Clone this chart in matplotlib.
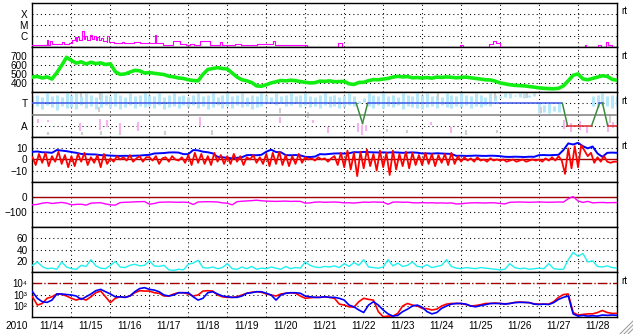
import numpy as np
import matplotlib
matplotlib.use("Agg")
import matplotlib.pyplot as plt
from matplotlib.lines import Line2D
from matplotlib.ticker import FixedLocator, NullLocator

plt.rcParams['font.family'] = ['Liberation Sans', 'DejaVu Sans']
plt.rcParams['lines.scale_dashes'] = False

# --- data: time in days since 2010-11-14 00:00 ---
year_label = '2010'
day_labels = ['11/14', '11/15', '11/16', '11/17', '11/18', '11/19', '11/20', '11/21',
              '11/22', '11/23', '11/24', '11/25', '11/26', '11/27', '11/28']

# x-ray flux (W/m2), irregular times; values below 1e-7 are off scale
xray_t = [0.00, 0.10, 0.18, 0.37, 0.40, 0.45, 0.50, 0.60, 0.75, 0.80, 0.95, 1.02, 1.08, 1.12,
          1.15, 1.20, 1.28, 1.31, 1.36, 1.40, 1.47, 1.52, 1.58, 1.62, 1.66, 1.70, 1.75, 1.80,
          1.90, 1.92, 1.96, 2.10, 2.30, 2.35, 2.60, 2.75, 3.00, 3.14, 3.17, 3.30, 3.35, 3.60,
          3.78, 3.95, 4.05, 4.15, 4.30, 4.55, 4.80, 4.86, 5.20, 5.35, 5.75, 6.17, 6.22, 6.95,
          7.04, 7.20, 7.45, 7.48, 7.85, 7.94, 9.11, 9.14, 9.37, 9.40, 10.70, 10.74, 10.96, 11.04,
          11.72, 11.82, 11.90, 11.99, 13.83, 13.86, 14.17, 14.20, 14.37, 14.40, 14.50, 14.60,
          14.72, 14.76, 14.82, 14.86, 15.00]
xray_flux = [1.5e-7, 1.8e-7, 1.5e-7, 4.3e-7, 1.8e-7, 3.5e-7, 2.0e-7, 2.2e-7, 3.0e-7, 2.2e-7,
             2.3e-7, 5.0e-7, 8.6e-7, 4.0e-7, 8.6e-7, 4.5e-7, 2.85e-6, 6.0e-7, 1.0e-6, 5.0e-7,
             1.3e-6, 6.0e-7, 1.1e-6, 5.0e-7, 8.6e-7, 4.5e-7, 6.6e-7, 3.5e-7, 3.0e-7, 1.1e-6,
             3.0e-7, 2.5e-7, 3.2e-7, 2.5e-7, 2.8e-7, 2.4e-7, 2.5e-7, 1.2e-6, 2.5e-7, 2.6e-7,
             1.5e-7, 3.5e-7, 2.0e-7, 1.8e-7, 2.2e-7, 1.7e-7, 3.5e-7, 1.5e-7, 3.0e-7, 1.7e-7,
             2.0e-7, 1.8e-7, 2.0e-7, 3.5e-7, 1.5e-7, 1.5e-7, 1.2e-7, 5e-8, 1.1e-7, 5e-8,
             2.5e-7, 5e-8, 1.1e-7, 5e-8, 1.1e-7, 5e-8, 1.1e-7, 5e-8, 1.5e-7, 5e-8,
             2.0e-7, 3.5e-7, 2.5e-7, 5e-8, 1.1e-7, 5e-8, 1.5e-7, 5e-8, 1.2e-7, 5e-8,
             1.5e-7, 5e-8, 3.0e-7, 1.5e-7, 1.8e-7, 5e-8, 5e-8]

# 3-hourly series
t3h = np.arange(121) / 8.0
speed = [470, 478, 460, 472, 448, 520, 600, 690,
         655, 625, 640, 615, 635, 620, 628, 610,
         618, 530, 500, 505, 525, 545, 540, 515,
         520, 512, 505, 498, 480, 472, 460, 455,
         440, 432, 428, 500, 555, 565, 575, 565,
         560, 515, 470, 440, 428, 410, 372, 368,
         385, 405, 418, 432, 428, 435, 430, 420,
         412, 405, 408, 425, 422, 428, 418, 420,
         422, 395, 388, 410, 412, 430, 442, 440,
         448, 455, 470, 478, 472, 476, 462, 465,
         460, 465, 458, 470, 466, 472, 468, 462,
         466, 470, 462, 455, 448, 440, 438, 425,
         405, 395, 385, 378, 375, 372, 365, 358,
         350, 345, 342, 340, 345, 372, 430, 490,
         505, 450, 440, 455, 470, 485, 478, 445,
         435]

# sector panel: T = 1, A = -1
pol_t = [0, 8.31, 8.47, 8.60, 13.60, 13.73, 14.35, 14.55, 14.63, 14.76, 15]
pol_v = [1, 1, -0.8, 1, 1, -1, -1, 1, 1, -1, -1]
nan = np.nan
phi_hi = [1.7, 1.8, 1.6, 1.9, 1.7, 1.8, 1.6, 1.9,
          1.8, 1.9, 1.7, 1.9, 1.8, 1.6, 1.9, 1.8,
          1.7, 1.9, 1.8, 1.6, 1.9, 1.7, 1.8, 1.9,
          1.8, 1.7, 1.9, 1.6, 1.8, 1.9, 1.7, 1.8,
          1.6, 1.8, 1.9, 1.7, 1.8, 1.9, 1.6, 1.8,
          1.9, 1.7, 1.8, 1.9, 1.6, 1.8, 1.7, 1.9,
          1.8, 1.6, 1.9, 1.7, 1.8, 1.9, 1.7, 1.8,
          1.9, 1.7, 1.6, 1.8, 1.9, 1.7, 1.8, 1.6,
          1.8, 1.9, 1.7, 1.2, 1.5, 1.9, 1.8, 1.7,
          1.9, 1.7, 1.8, 1.6, 1.9, 1.8, 1.7, 1.9,
          1.8, 1.9, 1.7, 1.8, 1.6, 1.9, 1.8, 1.7,
          1.9, 1.8, 1.7, 1.9, 1.8, 1.6, 1.9, 1.8,
          1.7, 1.9, 1.9, 1.8, 1.9, 1.9, 1.8, 1.9,
          1.0, 0.9, 1.0, 0.8, 1.0, nan, nan, nan,
          nan, nan, nan, 1.7, 1.8, 1.9, 1.7, 1.8,
          1.7]
phi_lo = [0.6, 0.8, 0.5, 0.9, 0.7, 0.4, 0.8, 0.6,
          0.7, 0.5, 0.9, 0.6, 0.8, 0.5, 0.7, 0.9,
          0.6, 0.8, 0.5, 0.7, 0.9, 0.6, 0.8, 0.7,
          0.8, 0.6, 0.9, 0.5, 0.7, 0.8, 0.6, 0.9,
          0.7, 0.9, 0.6, 0.8, 0.5, 0.7, 0.9, 0.6,
          0.8, 0.6, 0.9, 0.7, 0.8, 0.5, 0.7, 0.8,
          1.0, 1.1, 0.9, 1.0, 0.8, 0.9, 1.0, 0.7,
          0.9, 0.7, 0.8, 0.6, 0.9, 0.7, 0.8, 0.6,
          0.7, 0.9, 0.8, 1.0, 1.1, 0.8, 0.6, 0.9,
          0.6, 0.8, 0.7, 0.9, 0.5, 0.8, 0.7, 0.6,
          0.5, 0.7, 0.8, 0.6, 0.9, 0.7, 0.6, 0.8,
          0.7, 0.9, 0.6, 0.8, 0.7, 0.9, 0.8, 1.2,
          1.5, 1.6, 1.5, 1.7, 1.6, 1.5, 1.6, 1.7,
          0.1, 0.2, 0.1, 0.3, 0.2, nan, nan, nan,
          nan, nan, nan, 0.8, 0.7, 0.9, 0.8, 0.6,
          0.8]
pink_t = [0.14, 0.40, 1.22, 1.73, 1.91, 2.24, 2.71, 4.29, 6.35, 7.19, 7.58, 8.35, 8.45,
          8.55, 10.24, 10.73, 13.65, 13.83, 14.04, 14.24, 14.78, 14.91]
pink_lo = [-0.8, -0.7, -1.5, -1.4, -1.1, -1.7, -1.5, -1.0, -0.8, -0.8, -1.7, -1.6, -1.8,
           -1.5, -0.9, -1.7, -1.3, -1.6, -1.4, -1.7, -1.6, -1.2]
pink_hi = [-0.4, -0.5, -0.8, -0.4, -0.5, -0.8, -0.7, -0.2, -0.2, -0.5, -1.1, -0.8, -0.9,
           -0.9, -0.7, -1.1, -0.5, -0.8, -0.6, -1.0, -0.8, -0.7]
grey_t = [0.40, 1.24, 1.27, 1.71, 1.73, 1.76, 2.24, 3.40, 4.60, 6.35, 7.06, 9.09, 9.60,
          10.40, 11.12, 11.86, 11.91, 12.68, 13.06, 14.81]
grey_lo = [-1.85, 1.55, -1.85, 0.2, 1.3, -1.85, -1.8, -1.85, -1.85, 0.1, -0.3, -1.6, -1.7,
           1.3, -1.85, 1.4, -1.7, 1.45, 0.1, -0.8]
grey_hi = [-1.6, 1.9, -1.6, 0.7, 1.9, -1.5, -1.6, -1.5, -1.4, 0.55, 0.25, -1.3, -1.4,
           1.9, -1.4, 1.9, -1.4, 1.9, 0.7, -0.05]

bt = [6.9, 7.2, 6.5, 6.4, 6.0, 8.5, 8.0, 7.5,
      6.7, 6.0, 5.0, 4.8, 4.6, 4.5, 3.9, 3.8,
      3.5, 3.3, 3.2, 3.3, 3.2, 3.4, 3.5, 3.9,
      4.2, 5.4, 5.6, 5.8, 6.3, 6.4, 6.2, 4.8,
      4.8, 8.5, 8.2, 7.0, 6.5, 5.5, 2.4, 2.0,
      1.5, 1.0, 1.5, 2.0, 3.9, 4.0, 3.8, 4.2,
      7.0, 8.8, 6.7, 6.5, 3.9, 3.8, 4.0, 3.7,
      2.4, 2.2, 2.6, 4.8, 4.6, 5.0, 5.4, 5.5,
      5.3, 5.6, 6.6, 6.5, 6.8, 6.6, 6.4, 6.3,
      6.4, 6.2, 6.5, 6.3, 6.0, 6.2, 6.4, 6.1,
      5.4, 5.5, 5.3, 5.6, 5.4, 5.2, 5.0, 3.3,
      3.4, 3.2, 3.3, 3.5, 3.3, 3.2, 3.4, 3.3,
      3.0, 2.4, 2.3, 2.5, 2.4, 2.2, 2.5, 2.4,
      3.9, 4.0, 3.8, 4.0, 4.2, 8.5, 14.5, 13.5,
      15.0, 12.0, 10.0, 11.7, 5.4, 2.4, 6.0, 6.2,
      6.0]

dst = [-51, -48, -40, -36, -42, -38, -35, -40,
       -51, -48, -47, -53, -40, -38, -37, -45,
       -51, -53, -36, -34, -33, -31, -30, -29,
       -47, -42, -34, -33, -32, -33, -34, -33,
       -35, -49, -32, -31, -30, -31, -32, -38,
       -40, -51, -30, -27, -25, -23, -20, -24,
       -26, -27, -28, -27, -26, -28, -27, -28,
       -40, -38, -33, -32, -34, -33, -32, -34,
       -38, -37, -39, -36, -33, -34, -32, -33,
       -34, -47, -33, -32, -34, -33, -37, -38,
       -36, -38, -37, -39, -38, -40, -38, -45,
       -44, -40, -38, -37, -38, -39, -37, -38,
       -42, -45, -34, -33, -32, -33, -34, -33,
       -32, -33, -34, -33, -32, -33, -10, 4,
       -25, -35, -28, -38, -36, -35, -37, -36,
       -36]

density = [12, 18, 10, 6, 7, 5, 18, 9,
           6, 5, 12, 10, 22, 11, 7, 6,
           12, 19, 9, 8, 12, 14, 11, 12,
           20, 11, 10, 12, 4, 3, 5, 4,
           14, 16, 21, 8, 7, 9, 6, 8,
           15, 6, 5, 9, 6, 10, 5, 7,
           6, 9, 7, 5, 10, 6, 8, 7,
           18, 12, 9, 8, 10, 9, 11, 8,
           15, 10, 17, 12, 22, 9, 8, 7,
           9, 22, 11, 16, 10, 12, 18, 10,
           9, 13, 8, 10, 12, 22, 10, 7,
           6, 8, 7, 6, 8, 7, 6, 5,
           4, 5, 15, 8, 6, 7, 5, 6,
           7, 6, 15, 6, 5, 5, 22, 35,
           28, 33, 18, 20, 10, 9, 11, 8,
           7]

elec_blue = [1780, 460, 230, 200, 320, 1120, 1120, 1000,
             910, 740, 370, 630, 1120, 2200, 2900, 1780,
             1120, 630, 630, 560, 740, 1780, 3400, 4070,
             2900, 2500, 1780, 910, 740, 910, 1450, 1450,
             1450, 630, 320, 460, 1450, 1780, 1120, 740,
             630, 560, 560, 740, 1290, 1450, 1780, 1780,
             1290, 910, 320, 910, 1290, 1450, 1450, 1290,
             740, 630, 560, 560, 630, 560, 560, 460,
             320, 115, 81, 42, 25, 115, 230, 115,
             42, 19, 12, 14, 30, 50, 95, 115,
             75, 30, 19, 25, 59, 95, 140, 160,
             160, 140, 95, 81, 105, 125, 160, 160,
             160, 140, 160, 190, 200, 200, 190, 140,
             130, 140, 130, 190, 370, 560, 740, 19,
             12, 14, 12, 13, 12, 15, 14, 15,
             14]
elec_red = [630, 115, 160, 460, 630, 1120, 1050, 740,
            460, 320, 460, 320, 630, 1450, 2040, 630,
            190, 460, 630, 560, 740, 1450, 2200, 2040,
            2040, 1450, 1290, 740, 740, 1120, 1450, 1450,
            1120, 740, 910, 2040, 2200, 2040, 910, 630,
            560, 560, 630, 910, 1290, 1600, 1780, 1600,
            1120, 910, 740, 1120, 1290, 1450, 1290, 740,
            460, 520, 560, 560, 630, 560, 460, 140,
            115, 81, 75, 230, 460, 370, 320, 30,
            10.5, 12, 12, 21, 95, 160, 115, 95,
            59, 55, 42, 50, 95, 140, 160, 160,
            160, 130, 95, 105, 125, 160, 160, 175,
            160, 150, 160, 200, 215, 200, 190, 150,
            140, 140, 140, 230, 560, 1000, 1120, 25,
            15, 17, 19, 19, 25, 38, 25, 21,
            21]

# 2-hourly Bz
t2h = np.arange(181) / 12.0
bz = [2, -5, 5, -3, 6, -6, 3, -2, 7, -4, 4, -7,
      3, -6, 5, -2, 6, -5, 2, -3, 4, -7, 5, -4,
      1, -2, 3, 0, 2, -1, 4, -2, 1, 3, -2, 2,
      2, -1, 3, -4, 1, 2, -2, 3, 0, -1, 2, -3,
      4, -5, 6, -3, 5, -4, 3, -5, 6, -2, 4, -4,
      3, -4, 5, -2, 3, -5, 2, 0, 4, -3, 2, -4,
      5, -6, 6, -4, 7, -5, 4, -6, 3, -4, 5, -3,
      2, 0, 1, -1, 2, 0, 1, -2, 1, 3, -5, 6,
      -7, 8, -9, 6, -15, 7, -8, 9, -6, 5, -10, 8,
      -7, 6, -14, 8, -9, 5, -6, 7, -8, 6, -5, 4,
      -5, 6, -4, 5, -6, 4, -3, 5, -5, 6, -4, 3,
      -2, 2, -1, 1, -2, 2, -1, 0, -2, 1, -1, 0,
      -1, 0, -2, -1, 0, -2, -1, 0, -2, -1, 0, -1,
      0, -2, 1, -1, 2, -1, 3, -1, -13, 10, -8, 12,
      -7, 13, 8, 3, 6, -3, 2, -2, 3, -2, -3, -2,
      -2]

# --- figure ---
fig, axes = plt.subplots(7, 1, sharex=True, figsize=(6.33, 3.34), dpi=100,
                         gridspec_kw={'hspace': 0})
fig.subplots_adjust(left=0.0513, right=0.9747, top=0.9925, bottom=0.0509)

DOT = dict(color='black', lw=0.75, dashes=(0.75, 2.25), zorder=1)


def dotted(ax, vals):
    for v in vals:
        ax.axhline(v, **DOT)


for ax in axes:
    ax.set_xlim(0, 15)
    for d in range(1, 15):
        ax.axvline(d, **DOT)
    for s in ax.spines.values():
        s.set_linewidth(1.0)
    ax.tick_params(length=0, labelsize=7.2, pad=3.5)

# 1: x-ray
ax = axes[0]
ax.set_yscale('log')
ax.set_ylim(1e-7, 1e-3)
ax.step(xray_t, xray_flux, where='post', color='#ff00ff', lw=0.8, zorder=3)
dotted(ax, [1e-6, 1e-5, 1e-4])
ax.yaxis.set_major_locator(FixedLocator([1e-6, 1e-5, 1e-4]))
ax.yaxis.set_minor_locator(NullLocator())
ax.set_yticklabels(['C', 'M', 'X'])

# 2: speed
ax = axes[1]
ax.set_ylim(300, 800)
ax.plot(t3h, speed, color='#11ee11', lw=2.6, zorder=3)
dotted(ax, [400, 500, 600, 700])
ax.set_yticks([400, 500, 600, 700])

# 3: sector
ax = axes[2]
ax.set_ylim(-2.05, 2.0)
ph_t = np.array(t3h)
ph_hi = np.array(phi_hi)
ph_lo = np.array(phi_lo)
ok = ~np.isnan(ph_hi)
ax.vlines(ph_t[ok], ph_lo[ok], ph_hi[ok], color='#b4e8fa', lw=2.2, zorder=2)
ax.vlines(grey_t, grey_lo, grey_hi, color='#cfcfcf', lw=1.5, zorder=2)
ax.vlines(pink_t, pink_lo, pink_hi, color='#f5b4f0', lw=1.5, zorder=2)
dotted(ax, [1, -1])
ax.axhline(0, color='#808080', lw=1.1, zorder=3)
for i in range(len(pol_t) - 1):
    a, b = pol_v[i], pol_v[i + 1]
    if a == 1 and b == 1:
        c = '#3c55e6'
    elif a == -1 and b == -1:
        c = '#e02828'
    else:
        c = '#3c8c3c'
    ax.plot(pol_t[i:i + 2], pol_v[i:i + 2], color=c, lw=1.1, zorder=4)
ax.set_yticks([1, -1])
ax.set_yticklabels(['T', 'A'])

# 4: Bt / Bz
ax = axes[3]
ax.set_ylim(-20.5, 20)
dotted(ax, [10, -10])
ax.axhline(0, color='#a00000', lw=1.0, zorder=2)
ax.plot(t3h, bt, color='#0000ff', lw=1.4, zorder=3)
ax.plot(t2h, bz, color='#ff0000', lw=1.3, zorder=4)
ax.set_yticks([10, 0, -10])

# 5: Dst
ax = axes[4]
ax.set_ylim(-200, 100)
dotted(ax, [-100])
ax.axhline(0, color='#a00000', lw=1.0, zorder=2)
ax.plot(t3h, dst, color='#ff00ff', lw=1.0, zorder=3)
ax.set_yticks([0, -100])

# 6: density
ax = axes[5]
ax.set_ylim(0, 80)
dotted(ax, [20, 40, 60])
ax.plot(t3h, density, color='#20f0f0', lw=1.0, zorder=3)
ax.set_yticks([20, 40, 60])

# 7: electrons
ax = axes[6]
ax.set_yscale('log')
ax.set_ylim(10, 1e5)
dotted(ax, [1e2, 1e3])
ax.axhline(1e4, color='#a00000', lw=1.0, dashes=(7, 1.5, 1, 1.5), zorder=2)
ax.plot(t3h, elec_red, color='#ff0000', lw=1.2, zorder=3)
ax.plot(t3h, elec_blue, color='#0000ff', lw=1.2, zorder=4)
ax.yaxis.set_major_locator(FixedLocator([1e2, 1e3, 1e4]))
ax.yaxis.set_minor_locator(NullLocator())
ax.set_yticklabels(['10\u00b2', '10\u00b3', '10\u2074'], fontsize=7.0)

axes[-1].set_xticks(np.arange(15) + 0.5)
axes[-1].set_xticklabels(day_labels)
axes[-1].tick_params(axis='x', pad=3)

for i in (0, 1, 2, 3, 6):
    axes[i].text(1.0068, 0.81, 'rt', transform=axes[i].transAxes, fontsize=7,
                 ha='left', va='center')

fig.text(16.5 / 633, 1 - 326 / 334, year_label, ha='center', va='center', fontsize=7.2)

# window resize grip
for o in (0, 4, 8):
    fig.add_artist(Line2D([(620 + o) / 633, 633 / 633], [0, (13 - o) / 334],
                          transform=fig.transFigure, color='#a0a0a0', lw=0.8))

fig.savefig('out.png', dpi=100)
